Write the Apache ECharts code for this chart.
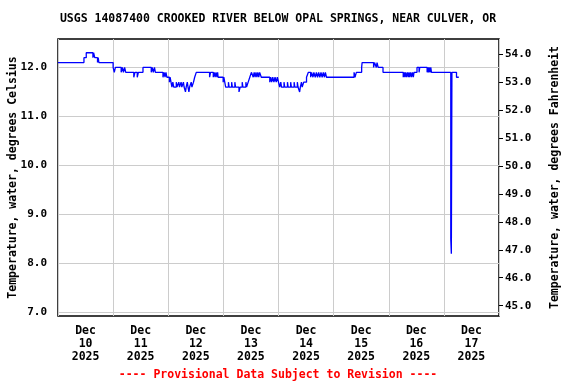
<!DOCTYPE html>
<html>
<head>
<meta charset="utf-8">
<script src="https://cdn.jsdelivr.net/npm/echarts@6/dist/echarts.min.js"></script>
<style>html,body{margin:0;padding:0;background:#fff}#c{width:576px;height:384px}</style>
</head>
<body>
<div id="c"></div>
<script>
// Hours since 2025-12-10 00:00 at which the reading changes, and the reading (deg C)
var hours = [0,11.3,12.3,15.2,15.5,16.0,17.2,17.5,17.8,
24.0,24.5,25.0,27.5,28.0,28.5,29.0,29.5,
33.0,33.5,34.5,35.0,37.0,40.6,41.0,41.5,42.0,42.4,
45.7,46.2,46.6,47.0,47.4,48.5,48.8,49.2,49.6,50.0,50.4,
51.5,51.8,52.6,52.9,53.6,53.9,54.6,54.9,55.5,55.8,56.3,56.6,57.0,57.3,58.0,58.3,
59.0,59.5,60.2,66.0,66.4,67.6,68.0,68.4,68.8,69.2,69.5,69.7,
71.9,72.2,72.6,73.0,
74.2,74.5,75.6,75.9,77.0,77.3,78.8,79.3,80.2,80.5,81.8,82.1,
82.8,83.5,84.2,85.0,85.4,85.8,86.2,86.6,87.0,87.4,87.8,88.5,
92.2,92.6,93.0,93.5,94.0,94.5,95.0,95.5,96.0,96.5,
97.0,97.3,98.4,98.7,99.9,100.2,101.3,101.6,102.8,103.1,104.2,104.5,105.2,105.5,106.0,106.3,
107.0,108.2,109.0,110.0,110.4,111.0,111.4,112.0,112.5,113.0,113.5,114.0,114.5,115.0,115.5,116.0,116.4,116.9,
128.9,129.3,129.9,132.2,132.4,137.4,137.8,138.6,138.9,139.4,141.5,
150.3,150.7,151.0,151.3,151.7,152.1,152.5,152.8,153.1,153.5,153.9,154.3,154.7,155.0,
156.3,157.2,157.5,160.7,161.0,161.3,161.6,162.0,162.3,162.6,
171.0,171.25,171.5,173.5,174.5];
var tempC = [12.1,12.2,12.3,12.2,12.3,12.2,12.1,12.2,12.1,
12.0,11.9,12.0,11.9,12.0,11.9,12.0,11.9,
11.8,11.9,11.8,11.9,12.0,11.9,12.0,11.9,12.0,11.9,
11.8,11.9,11.8,11.9,11.8,11.7,11.8,11.7,11.6,11.7,11.6,
11.7,11.6,11.7,11.6,11.7,11.6,11.7,11.6,11.5,11.6,11.7,11.6,11.5,11.6,11.7,11.6,
11.7,11.8,11.9,11.8,11.9,11.8,11.9,11.8,11.9,11.8,11.9,11.8,
11.7,11.8,11.7,11.6,
11.7,11.6,11.7,11.6,11.7,11.6,11.5,11.6,11.7,11.6,11.7,11.6,
11.7,11.8,11.9,11.8,11.9,11.8,11.9,11.8,11.9,11.8,11.9,11.8,
11.7,11.8,11.7,11.8,11.7,11.8,11.7,11.8,11.7,11.6,
11.7,11.6,11.7,11.6,11.7,11.6,11.7,11.6,11.7,11.6,11.7,11.6,11.5,11.6,11.7,11.6,
11.7,11.8,11.9,11.8,11.9,11.8,11.9,11.8,11.9,11.8,11.9,11.8,11.9,11.8,11.9,11.8,11.9,11.8,
11.9,11.8,11.9,12.0,12.1,12.0,12.1,12.0,12.1,12.0,11.9,
11.8,11.9,11.8,11.9,11.8,11.9,11.8,11.9,11.8,11.9,11.8,11.9,11.8,11.9,
12.0,11.9,12.0,11.9,12.0,11.9,12.0,11.9,12.0,11.9,
8.5,8.2,11.9,11.8,11.8];
var dayLabels = ['Dec\n10\n2025','Dec\n11\n2025','Dec\n12\n2025','Dec\n13\n2025','Dec\n14\n2025','Dec\n15\n2025','Dec\n16\n2025','Dec\n17\n2025'];
var celsiusTicks = [7,8,9,10,11,12];
var fahrenheitTicks = [45,46,47,48,49,50,51,52,53,54];
var titleText = 'USGS 14087400 CROOKED RIVER BELOW OPAL SPRINGS, NEAR CULVER, OR';
var footerText = '---- Provisional Data Subject to Revision ----';

var FONT = '"DejaVu Sans Mono", monospace';
var data = hours.map(function(h, i){ return [h, tempC[i]]; });

var chart = echarts.init(document.getElementById('c'), null, {renderer:'canvas'});
chart.setOption({
  animation: false,
  backgroundColor: '#fff',
  grid: {left: 58, right: 77, top: 39, bottom: 68, containLabel: false, outerBoundsMode: 'none',
    show: true, borderColor: '#000', borderWidth: 1.5, backgroundColor: 'transparent'},
  xAxis: [{
    type: 'value', min: 0, max: 192, interval: 24,
    axisLine: {show: false}, axisTick: {show: false}, axisLabel: {show: false},
    splitLine: {show: true, lineStyle: {color: '#cccccc', width: 1}}
  }, {
    type: 'category', data: dayLabels, boundaryGap: true, position: 'bottom',
    axisLine: {show: false}, axisTick: {show: false}, splitLine: {show: false},
    axisLabel: {margin: 9, fontFamily: FONT, fontWeight: 'bold', fontSize: 11.5, color: '#000', lineHeight: 13, interval: 0}
  }],
  yAxis: [{
    type: 'value', min: 6.93, max: 12.58, position: 'left',
    name: 'Temperature, water, degrees Celsius', nameLocation: 'middle', nameGap: 39, nameMoveOverlap: false,
    nameTextStyle: {fontFamily: FONT, fontWeight: 'bold', fontSize: 11.5, color: '#000'},
    axisLine: {show: false},
    axisTick: {show: false, customValues: celsiusTicks},
    axisLabel: {customValues: celsiusTicks, margin: 11, fontFamily: FONT, fontWeight: 'bold', fontSize: 11, color: '#000',
      formatter: function(v){ return v.toFixed(1); }},
    splitLine: {show: true, lineStyle: {color: '#cccccc', width: 1}}
  }, {
    type: 'value', min: 44.63, max: 54.54, position: 'right',
    name: 'Temperature, water, degrees Fahrenheit', nameLocation: 'middle', nameGap: 50, nameMoveOverlap: false,
    nameTextStyle: {fontFamily: FONT, fontWeight: 'bold', fontSize: 11.5, color: '#000'},
    axisLine: {show: false},
    axisTick: {show: true, inside: false, length: 4, customValues: fahrenheitTicks, lineStyle: {color: '#000', width: 1}},
    axisLabel: {customValues: fahrenheitTicks, margin: 6, fontFamily: FONT, fontWeight: 'bold', fontSize: 11, color: '#000',
      formatter: function(v){ return v.toFixed(1); }},
    splitLine: {show: false}
  }],
  series: [{
    type: 'line', xAxisIndex: 0, yAxisIndex: 0, data: data, step: 'end',
    showSymbol: false, symbol: 'none',
    lineStyle: {color: '#0000ff', width: 1.3}
  }],
  graphic: [{
    type: 'text', x: 278, y: 19,
    style: {text: titleText, align: 'center', verticalAlign: 'middle', fontFamily: FONT, fontWeight: 'bold', fontSize: 11.5, fill: '#000'}
  }, {
    type: 'text', x: 278, y: 375,
    style: {text: footerText, align: 'center', verticalAlign: 'middle', fontFamily: FONT, fontWeight: 'bold', fontSize: 11.5, fill: '#ff0000'}
  }]
});
</script>
</body>
</html>
